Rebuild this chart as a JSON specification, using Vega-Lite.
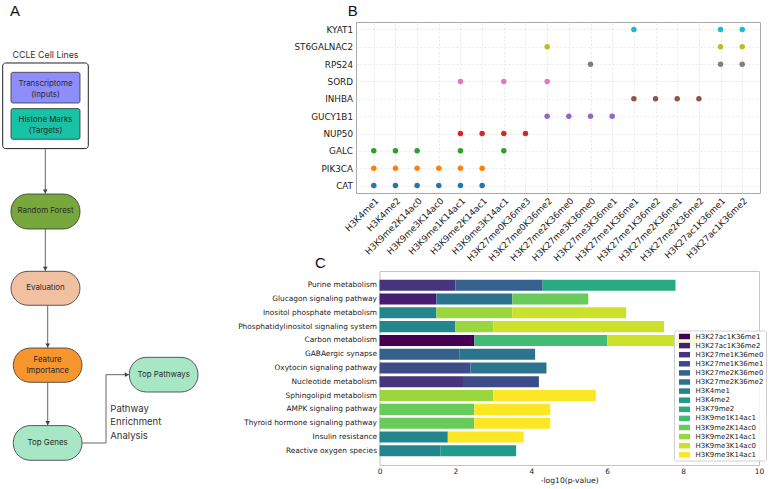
{
  "$schema": "https://vega.github.io/schema/vega-lite/v6.json",
  "background": "white",
  "padding": {"left": 0, "top": 3, "right": 0, "bottom": 0},
  "config": {
    "font": "DejaVu Sans",
    "view": {"stroke": null},
    "axis": {"labelColor": "#222222", "titleColor": "#222222"}
  },
  "datasets": {
    "flow_nodes": [
      {"node": "CCLE", "kind": "frame", "x1": 1.17, "x2": 38.39, "y1": 8.76, "y2": 27.05},
      {"node": "Transcriptome", "kind": "box", "x1": 4.78, "x2": 34.78, "y1": 10.75, "y2": 17.31},
      {"node": "Histone", "kind": "box", "x1": 4.78, "x2": 34.78, "y1": 18.5, "y2": 25.06},
      {"node": "RandomForest", "kind": "pill", "x1": 4.78, "x2": 34.78, "y1": 36.75, "y2": 44.23},
      {"node": "Evaluation", "kind": "pill", "x1": 4.78, "x2": 34.78, "y1": 53.27, "y2": 60.53},
      {"node": "FeatureImportance", "kind": "pill", "x1": 5.78, "x2": 35.65, "y1": 69.66, "y2": 76.99},
      {"node": "TopGenes", "kind": "pill", "x1": 5.78, "x2": 35.65, "y1": 86.24, "y2": 93.65},
      {"node": "TopPathways", "kind": "pill", "x1": 56.22, "x2": 86.09, "y1": 71.65, "y2": 79.06}
    ],
    "flow_text": [
      {"label": "CCLE Cell Lines", "role": "header", "x": 19.78, "y": 7.12},
      {"label": "Transcriptome", "role": "box", "x": 19.78, "y": 13.16},
      {"label": "(Inputs)", "role": "box", "x": 19.78, "y": 15.51},
      {"label": "Histone Marks", "role": "box", "x": 19.78, "y": 20.94},
      {"label": "(Targets)", "role": "box", "x": 19.78, "y": 23.29},
      {"label": "Random Forest", "role": "box", "x": 19.78, "y": 40.49},
      {"label": "Evaluation", "role": "box", "x": 19.78, "y": 56.9},
      {"label": "Feature", "role": "box", "x": 20.72, "y": 72.14},
      {"label": "Importance", "role": "box", "x": 20.72, "y": 74.57},
      {"label": "Top Genes", "role": "box", "x": 20.72, "y": 89.96},
      {"label": "Top Pathways", "role": "box", "x": 71.15, "y": 75.36},
      {"label": "Pathway", "role": "note", "x": 47.96, "y": 82.61},
      {"label": "Enrichment", "role": "note", "x": 47.96, "y": 85.53},
      {"label": "Analysis", "role": "note", "x": 47.96, "y": 88.52}
    ],
    "flow_links": [
      {"x": 19.7, "y": 27.05, "x2": 19.7, "y2": 36.75},
      {"x": 19.7, "y": 44.23, "x2": 19.7, "y2": 53.27},
      {"x": 20.74, "y": 60.53, "x2": 20.74, "y2": 69.66},
      {"x": 20.74, "y": 76.99, "x2": 20.74, "y2": 86.24},
      {"x": 35.65, "y": 89.96, "x2": 46.09, "y2": 89.96},
      {"x": 46.09, "y": 89.96, "x2": 46.09, "y2": 75.36},
      {"x": 46.09, "y": 75.36, "x2": 56.22, "y2": 75.36}
    ],
    "flow_heads": [
      {"x": 19.7, "y": 36.22, "dir": "down"},
      {"x": 19.7, "y": 52.74, "dir": "down"},
      {"x": 20.74, "y": 69.13, "dir": "down"},
      {"x": 20.74, "y": 85.71, "dir": "down"},
      {"x": 55.13, "y": 75.36, "dir": "right"}
    ],
    "top_genes": [
      {"gene": "CAT", "mark": "H3K4me1"}, {"gene": "CAT", "mark": "H3K4me2"}, {"gene": "CAT", "mark": "H3K9me2K14ac0"},
      {"gene": "CAT", "mark": "H3K9me3K14ac0"}, {"gene": "CAT", "mark": "H3K9me1K14ac1"}, {"gene": "CAT", "mark": "H3K9me2K14ac1"},
      {"gene": "PIK3CA", "mark": "H3K4me1"}, {"gene": "PIK3CA", "mark": "H3K4me2"}, {"gene": "PIK3CA", "mark": "H3K9me2K14ac0"},
      {"gene": "PIK3CA", "mark": "H3K9me3K14ac0"}, {"gene": "PIK3CA", "mark": "H3K9me1K14ac1"}, {"gene": "PIK3CA", "mark": "H3K9me2K14ac1"},
      {"gene": "GALC", "mark": "H3K4me1"}, {"gene": "GALC", "mark": "H3K4me2"}, {"gene": "GALC", "mark": "H3K9me2K14ac0"},
      {"gene": "GALC", "mark": "H3K9me1K14ac1"}, {"gene": "GALC", "mark": "H3K9me3K14ac1"},
      {"gene": "NUP50", "mark": "H3K9me1K14ac1"}, {"gene": "NUP50", "mark": "H3K9me2K14ac1"}, {"gene": "NUP50", "mark": "H3K9me3K14ac1"},
      {"gene": "NUP50", "mark": "H3K27me0K36me3"},
      {"gene": "GUCY1B1", "mark": "H3K27me0K36me2"}, {"gene": "GUCY1B1", "mark": "H3K27me2K36me0"}, {"gene": "GUCY1B1", "mark": "H3K27me3K36me0"},
      {"gene": "GUCY1B1", "mark": "H3K27me3K36me1"},
      {"gene": "INHBA", "mark": "H3K27me1K36me1"}, {"gene": "INHBA", "mark": "H3K27me1K36me2"}, {"gene": "INHBA", "mark": "H3K27me2K36me1"},
      {"gene": "INHBA", "mark": "H3K27me2K36me2"},
      {"gene": "SORD", "mark": "H3K9me1K14ac1"}, {"gene": "SORD", "mark": "H3K9me3K14ac1"}, {"gene": "SORD", "mark": "H3K27me0K36me2"},
      {"gene": "RPS24", "mark": "H3K27me3K36me0"}, {"gene": "RPS24", "mark": "H3K27ac1K36me1"}, {"gene": "RPS24", "mark": "H3K27ac1K36me2"},
      {"gene": "ST6GALNAC2", "mark": "H3K27me0K36me2"}, {"gene": "ST6GALNAC2", "mark": "H3K27ac1K36me1"}, {"gene": "ST6GALNAC2", "mark": "H3K27ac1K36me2"},
      {"gene": "KYAT1", "mark": "H3K27me1K36me1"}, {"gene": "KYAT1", "mark": "H3K27ac1K36me1"}, {"gene": "KYAT1", "mark": "H3K27ac1K36me2"}
    ],
    "pathways": [
      {"pathway": "Purine metabolism", "mark": "H3K27me1K36me0", "seg": 1, "value": 2.0},
      {"pathway": "Purine metabolism", "mark": "H3K27me2K36me0", "seg": 2, "value": 2.3},
      {"pathway": "Purine metabolism", "mark": "H3K79me2", "seg": 3, "value": 3.5},
      {"pathway": "Glucagon signaling pathway", "mark": "H3K27ac1K36me2", "seg": 1, "value": 1.5},
      {"pathway": "Glucagon signaling pathway", "mark": "H3K27me2K36me2", "seg": 2, "value": 2.0},
      {"pathway": "Glucagon signaling pathway", "mark": "H3K9me2K14ac0", "seg": 3, "value": 2.0},
      {"pathway": "Inositol phosphate metabolism", "mark": "H3K4me1", "seg": 1, "value": 1.5},
      {"pathway": "Inositol phosphate metabolism", "mark": "H3K9me2K14ac1", "seg": 2, "value": 2.0},
      {"pathway": "Inositol phosphate metabolism", "mark": "H3K9me3K14ac0", "seg": 3, "value": 3.0},
      {"pathway": "Phosphatidylinositol signaling system", "mark": "H3K4me1", "seg": 1, "value": 2.0},
      {"pathway": "Phosphatidylinositol signaling system", "mark": "H3K9me2K14ac1", "seg": 2, "value": 1.0},
      {"pathway": "Phosphatidylinositol signaling system", "mark": "H3K9me3K14ac0", "seg": 3, "value": 4.5},
      {"pathway": "Carbon metabolism", "mark": "H3K27ac1K36me1", "seg": 1, "value": 2.5},
      {"pathway": "Carbon metabolism", "mark": "H3K9me1K14ac1", "seg": 2, "value": 3.5},
      {"pathway": "Carbon metabolism", "mark": "H3K9me3K14ac0", "seg": 3, "value": 2.4},
      {"pathway": "GABAergic synapse", "mark": "H3K27me2K36me0", "seg": 1, "value": 2.1},
      {"pathway": "GABAergic synapse", "mark": "H3K27me2K36me2", "seg": 2, "value": 2.0},
      {"pathway": "Oxytocin signaling pathway", "mark": "H3K27me1K36me1", "seg": 1, "value": 2.4},
      {"pathway": "Oxytocin signaling pathway", "mark": "H3K27me2K36me2", "seg": 2, "value": 2.0},
      {"pathway": "Nucleotide metabolism", "mark": "H3K27me1K36me0", "seg": 1, "value": 2.2},
      {"pathway": "Nucleotide metabolism", "mark": "H3K27me1K36me1", "seg": 2, "value": 2.0},
      {"pathway": "Sphingolipid metabolism", "mark": "H3K9me2K14ac1", "seg": 1, "value": 3.0},
      {"pathway": "Sphingolipid metabolism", "mark": "H3K9me3K14ac1", "seg": 2, "value": 2.7},
      {"pathway": "AMPK signaling pathway", "mark": "H3K9me2K14ac0", "seg": 1, "value": 2.5},
      {"pathway": "AMPK signaling pathway", "mark": "H3K9me3K14ac1", "seg": 2, "value": 2.0},
      {"pathway": "Thyroid hormone signaling pathway", "mark": "H3K9me2K14ac0", "seg": 1, "value": 2.5},
      {"pathway": "Thyroid hormone signaling pathway", "mark": "H3K9me3K14ac1", "seg": 2, "value": 2.0},
      {"pathway": "Insulin resistance", "mark": "H3K4me1", "seg": 1, "value": 1.8},
      {"pathway": "Insulin resistance", "mark": "H3K9me3K14ac1", "seg": 2, "value": 2.0},
      {"pathway": "Reactive oxygen species", "mark": "H3K4me1", "seg": 1, "value": 1.6},
      {"pathway": "Reactive oxygen species", "mark": "H3K4me2", "seg": 2, "value": 2.0}
    ]
  },
  "spacing": 7,
  "resolve": {"scale": {"color": "independent", "fill": "independent", "shape": "independent"}, "legend": {"color": "independent"}},
  "hconcat": [
    {
      "width": 230,
      "height": 468,
      "view": {"stroke": null},
      "title": {"text": "A", "anchor": "start", "frame": "group", "dx": 10, "offset": -9.1, "baseline": "alphabetic", "fontSize": 15, "font": "Liberation Sans", "fontWeight": "normal", "color": "#111111"},
      "layer": [
        {
          "data": {"name": "flow_nodes"},
          "transform": [{"filter": "datum.kind === 'frame'"}],
          "mark": {"type": "rect", "cornerRadius": 3, "fill": "white", "stroke": "#222222", "strokeWidth": 1},
          "encoding": {
            "x": {"field": "x1", "type": "quantitative", "scale": {"domain": [0, 100], "nice": false, "zero": false}, "axis": null},
            "x2": {"field": "x2"},
            "y": {"field": "y1", "type": "quantitative", "scale": {"domain": [0, 100], "nice": false, "zero": false, "reverse": true}, "axis": null},
            "y2": {"field": "y2"}
          }
        },
        {
          "data": {"name": "flow_nodes"},
          "transform": [{"filter": "datum.kind === 'box'"}],
          "mark": {"type": "rect", "cornerRadius": 2, "stroke": "#333333", "strokeWidth": 0.8},
          "encoding": {
            "x": {"field": "x1", "type": "quantitative", "scale": {"domain": [0, 100], "nice": false, "zero": false}, "axis": null},
            "x2": {"field": "x2"},
            "y": {"field": "y1", "type": "quantitative", "scale": {"domain": [0, 100], "nice": false, "zero": false, "reverse": true}, "axis": null},
            "y2": {"field": "y2"},
            "fill": {"field": "node", "type": "nominal", "legend": null,
              "scale": {"domain": ["Transcriptome", "Histone", "RandomForest", "Evaluation", "FeatureImportance", "TopGenes", "TopPathways"],
                        "range": ["#8e8dfb", "#17c2a5", "#78a83b", "#f0c0a0", "#f7952f", "#a8e7c6", "#a8e7c6"]}}
          }
        },
        {
          "data": {"name": "flow_nodes"},
          "transform": [{"filter": "datum.kind === 'pill'"}],
          "mark": {"type": "rect", "cornerRadius": 17, "stroke": "#333333", "strokeWidth": 0.8},
          "encoding": {
            "x": {"field": "x1", "type": "quantitative", "scale": {"domain": [0, 100], "nice": false, "zero": false}, "axis": null},
            "x2": {"field": "x2"},
            "y": {"field": "y1", "type": "quantitative", "scale": {"domain": [0, 100], "nice": false, "zero": false, "reverse": true}, "axis": null},
            "y2": {"field": "y2"},
            "fill": {"field": "node", "type": "nominal", "legend": null,
              "scale": {"domain": ["Transcriptome", "Histone", "RandomForest", "Evaluation", "FeatureImportance", "TopGenes", "TopPathways"],
                        "range": ["#8e8dfb", "#17c2a5", "#78a83b", "#f0c0a0", "#f7952f", "#a8e7c6", "#a8e7c6"]}}
          }
        },
        {
          "data": {"name": "flow_links"},
          "mark": {"type": "rule", "color": "#666666", "strokeWidth": 1},
          "encoding": {
            "x": {"field": "x", "type": "quantitative", "scale": {"domain": [0, 100], "nice": false, "zero": false}, "axis": null},
            "x2": {"field": "x2"},
            "y": {"field": "y", "type": "quantitative", "scale": {"domain": [0, 100], "nice": false, "zero": false, "reverse": true}, "axis": null},
            "y2": {"field": "y2"}
          }
        },
        {
          "data": {"name": "flow_heads"},
          "mark": {"type": "point", "filled": true, "size": 22, "color": "#444444", "opacity": 1},
          "encoding": {
            "x": {"field": "x", "type": "quantitative", "scale": {"domain": [0, 100], "nice": false, "zero": false}, "axis": null},
            "y": {"field": "y", "type": "quantitative", "scale": {"domain": [0, 100], "nice": false, "zero": false, "reverse": true}, "axis": null},
            "shape": {"field": "dir", "type": "nominal", "legend": null, "scale": {"domain": ["down", "right"], "range": ["triangle-down", "triangle-right"]}}
          }
        },
        {
          "data": {"name": "flow_text"},
          "transform": [{"filter": "datum.role === 'header'"}],
          "mark": {"type": "text", "font": "Inter", "fontSize": 8.8, "color": "#333333", "align": "center", "baseline": "middle"},
          "encoding": {
            "x": {"field": "x", "type": "quantitative", "scale": {"domain": [0, 100], "nice": false, "zero": false}, "axis": null},
            "y": {"field": "y", "type": "quantitative", "scale": {"domain": [0, 100], "nice": false, "zero": false, "reverse": true}, "axis": null},
            "text": {"field": "label"}
          }
        },
        {
          "data": {"name": "flow_text"},
          "transform": [{"filter": "datum.role === 'box'"}],
          "mark": {"type": "text", "font": "Inter", "fontSize": 7.9, "color": "#2a2a2a", "align": "center", "baseline": "middle"},
          "encoding": {
            "x": {"field": "x", "type": "quantitative", "scale": {"domain": [0, 100], "nice": false, "zero": false}, "axis": null},
            "y": {"field": "y", "type": "quantitative", "scale": {"domain": [0, 100], "nice": false, "zero": false, "reverse": true}, "axis": null},
            "text": {"field": "label"}
          }
        },
        {
          "data": {"name": "flow_text"},
          "transform": [{"filter": "datum.role === 'note'"}],
          "mark": {"type": "text", "font": "Inter", "fontSize": 9.5, "color": "#333333", "align": "left", "baseline": "middle"},
          "encoding": {
            "x": {"field": "x", "type": "quantitative", "scale": {"domain": [0, 100], "nice": false, "zero": false}, "axis": null},
            "y": {"field": "y", "type": "quantitative", "scale": {"domain": [0, 100], "nice": false, "zero": false, "reverse": true}, "axis": null},
            "text": {"field": "label"}
          }
        }
      ]
    },
    {
      "spacing": -9,
      "resolve": {"scale": {"color": "independent"}, "legend": {"color": "independent"}},
      "vconcat": [
        {
          "width": 404,
          "height": 171,
          "view": {"stroke": "#aaaaaa"},
          "title": {"text": "B", "anchor": "start", "frame": "group", "dx": -8.3, "offset": -9.1, "baseline": "alphabetic", "fontSize": 15, "font": "Liberation Sans", "fontWeight": "normal", "color": "#111111"},
          "data": {"name": "top_genes"},
          "mark": {"type": "circle", "size": 30, "opacity": 1},
          "encoding": {
            "x": {
              "field": "mark", "type": "nominal",
              "sort": ["H3K4me1", "H3K4me2", "H3K9me2K14ac0", "H3K9me3K14ac0", "H3K9me1K14ac1", "H3K9me2K14ac1", "H3K9me3K14ac1", "H3K27me0K36me3", "H3K27me0K36me2", "H3K27me2K36me0", "H3K27me3K36me0", "H3K27me3K36me1", "H3K27me1K36me1", "H3K27me1K36me2", "H3K27me2K36me1", "H3K27me2K36me2", "H3K27ac1K36me1", "H3K27ac1K36me2"],
              "scale": {"type": "point", "padding": 0.82},
              "axis": {"title": null, "labelAngle": -45, "labelFontSize": 8.8, "ticks": false, "domain": false, "labelPadding": 3, "grid": true, "gridColor": "#e2e2e2", "gridDash": [2, 2], "gridWidth": 0.8}
            },
            "y": {
              "field": "gene", "type": "nominal",
              "sort": ["KYAT1", "ST6GALNAC2", "RPS24", "SORD", "INHBA", "GUCY1B1", "NUP50", "GALC", "PIK3CA", "CAT"],
              "scale": {"type": "point", "padding": 0.43},
              "axis": {"title": null, "labelFontSize": 8.8, "ticks": false, "domain": false, "labelPadding": 3.5, "grid": true, "gridColor": "#e2e2e2", "gridDash": [2, 2], "gridWidth": 0.8}
            },
            "color": {
              "field": "gene", "type": "nominal", "legend": null,
              "scale": {"domain": ["CAT", "PIK3CA", "GALC", "NUP50", "GUCY1B1", "INHBA", "SORD", "RPS24", "ST6GALNAC2", "KYAT1"],
                        "range": ["#1f77b4", "#ff7f0e", "#2ca02c", "#d62728", "#9467bd", "#8c564b", "#e377c2", "#7f7f7f", "#bcbd22", "#17becf"]}
            }
          }
        },
        {
          "bounds": "flush",
          "spacing": 22.5,
          "hconcat": [
            {
              "width": 1,
              "height": 1,
              "view": {"stroke": null},
              "data": {"values": [{"t": ""}]},
              "mark": {"type": "text"},
              "encoding": {"text": {"field": "t"}}
            },
            {
              "width": 379.5,
              "height": 194,
              "view": {"stroke": "#c4c4c4"},
              "title": {"text": "C", "anchor": "start", "frame": "group", "dx": -64.5, "offset": -12.1, "baseline": "alphabetic", "fontSize": 15, "font": "Liberation Sans", "fontWeight": "normal", "color": "#111111"},
              "data": {"name": "pathways"},
              "mark": {"type": "bar"},
              "encoding": {
                "y": {
                  "field": "pathway", "type": "nominal",
                  "sort": ["Purine metabolism", "Glucagon signaling pathway", "Inositol phosphate metabolism", "Phosphatidylinositol signaling system", "Carbon metabolism", "GABAergic synapse", "Oxytocin signaling pathway", "Nucleotide metabolism", "Sphingolipid metabolism", "AMPK signaling pathway", "Thyroid hormone signaling pathway", "Insulin resistance", "Reactive oxygen species"],
                  "scale": {"paddingInner": 0.2, "paddingOuter": 0.63},
                  "axis": {"title": null, "ticks": false, "domain": false, "labelFontSize": 7.4, "labelPadding": 3}
                },
                "x": {
                  "field": "value", "type": "quantitative", "stack": "zero",
                  "scale": {"domain": [0, 10], "nice": false},
                  "axis": {"title": "-log10(p-value)", "values": [0, 2, 4, 6, 8, 10], "grid": false, "domain": false, "ticks": false, "labelFlush": false, "labelFontSize": 7.4, "titleFontSize": 7.6, "titleFontWeight": "normal", "labelPadding": 2, "titlePadding": 2}
                },
                "color": {
                  "field": "mark", "type": "nominal",
                  "scale": {"domain": ["H3K27ac1K36me1", "H3K27ac1K36me2", "H3K27me1K36me0", "H3K27me1K36me1", "H3K27me2K36me0", "H3K27me2K36me2", "H3K4me1", "H3K4me2", "H3K79me2", "H3K9me1K14ac1", "H3K9me2K14ac0", "H3K9me2K14ac1", "H3K9me3K14ac0", "H3K9me3K14ac1"],
                            "range": ["#440154", "#481c6e", "#44357e", "#3d4c89", "#34618d", "#2c748e", "#24868d", "#209a8a", "#28ab81", "#41bc72", "#68cb5c", "#99d73d", "#cbe12a", "#fde725"]},
                  "legend": {"title": null, "orient": "none", "legendX": 318, "legendY": 59.5, "fillColor": "rgba(255,255,255,0.82)", "strokeColor": "#d0d0d0", "cornerRadius": 2, "padding": 2.5, "labelFontSize": 7, "labelColor": "#222222", "labelOffset": 12, "labelExpr": "datum.label + '      '", "symbolType": "M-0.333,-0.917H3.333V0.917H-0.333Z", "symbolSize": 36, "symbolStrokeWidth": 0, "symbolOpacity": 1, "rowPadding": 1.1}
                },
                "order": {"field": "seg", "type": "quantitative"}
              }
            }
          ]
        }
      ]
    }
  ]
}
